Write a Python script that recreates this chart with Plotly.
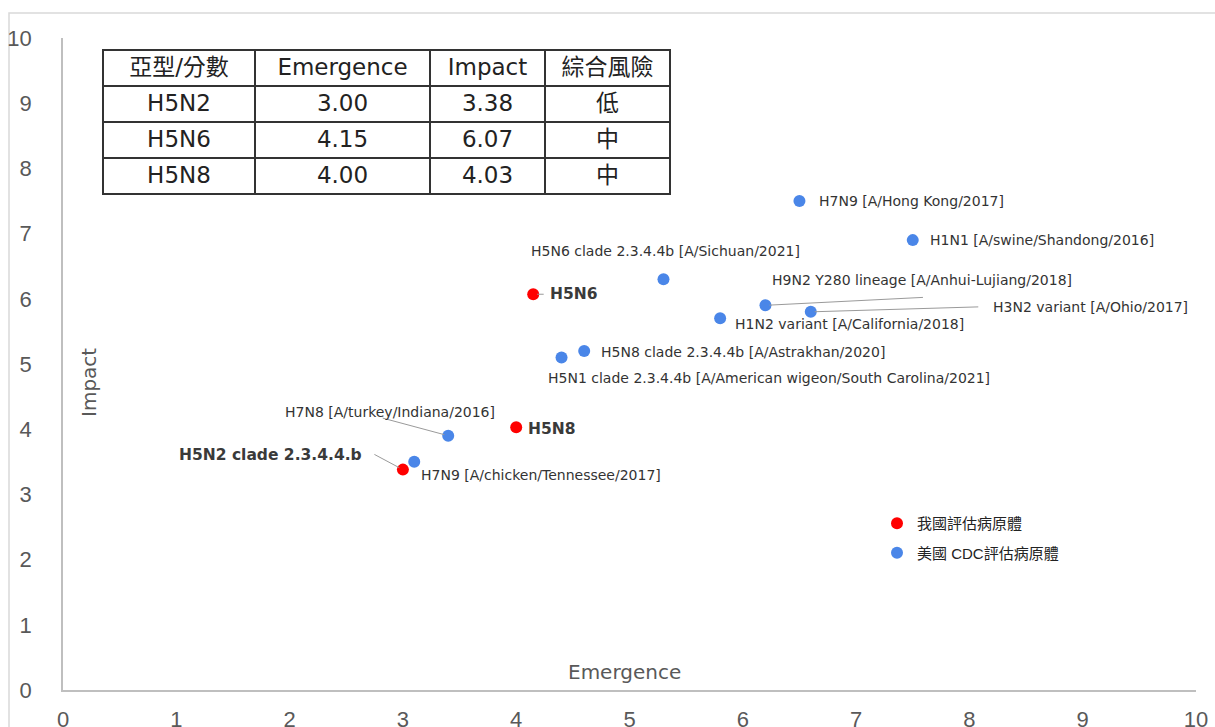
import plotly.graph_objects as go

# ---------------- data ----------------
tw_labels = ["H5N2 clade 2.3.4.4.b", "H5N6", "H5N8"]
tw_subtypes = ["H5N2", "H5N6", "H5N8"]
tw_emergence = [3.00, 4.15, 4.00]
tw_impact = [3.38, 6.07, 4.03]
tw_risk = ["低", "中", "中"]

us_labels = [
    "H7N9 [A/Hong Kong/2017]",
    "H1N1 [A/swine/Shandong/2016]",
    "H5N6 clade 2.3.4.4b [A/Sichuan/2021]",
    "H9N2 Y280 lineage [A/Anhui-Lujiang/2018]",
    "H3N2 variant [A/Ohio/2017]",
    "H1N2 variant [A/California/2018]",
    "H5N8 clade 2.3.4.4b [A/Astrakhan/2020]",
    "H5N1 clade 2.3.4.4b [A/American wigeon/South Carolina/2021]",
    "H7N8 [A/turkey/Indiana/2016]",
    "H7N9 [A/chicken/Tennessee/2017]",
]
us_emergence = [6.5, 7.5, 5.3, 6.2, 6.6, 5.8, 4.6, 4.4, 3.4, 3.1]
us_impact = [7.5, 6.9, 6.3, 5.9, 5.8, 5.7, 5.2, 5.1, 3.9, 3.5]

table_header = ["亞型/分數", "Emergence", "Impact", "綜合風險"]
x_ticks = list(range(0, 11))
y_ticks = list(range(0, 11))

legend_names = ["我國評估病原體", "美國 CDC評估病原體"]

# ---------------- styles ----------------
RED = "#FF0000"
BLUE = "#4A86E8"
LAB_FONT = "DejaVu Sans, Noto Sans CJK TC, sans-serif"
TICK_FONT = "Liberation Sans, Arial, sans-serif"
CJK_FONT = "DejaVu Sans, Noto Sans CJK TC, sans-serif"
LEG_FONT = "Liberation Sans, Noto Sans CJK TC, sans-serif"

# label placement (style only): xshift, yshift, xanchor, line (ax, ay) or None, bold
tw_style = [
    dict(xs=-39, ys=15, xa="right", line=(-30, -16), bold=True),
    dict(xs=15, ys=0, xa="left", line=(12, 0), bold=True),
    dict(xs=10, ys=-2, xa="left", line=None, bold=True),
]
us_style = [
    dict(xs=18, ys=0, xa="left", line=None),
    dict(xs=15, ys=0, xa="left", line=None),
    dict(xs=2, ys=28, xa="center", line=None),
    dict(xs=5, ys=25, xa="left", line=(159, -8)),
    dict(xs=180, ys=5, xa="left", line=(169, -5)),
    dict(xs=13, ys=-6, xa="left", line=None),
    dict(xs=15, ys=-1, xa="left", line=None),
    dict(xs=-16, ys=-21, xa="left", line=None),
    dict(xs=-58, ys=24, xa="center", line=(-67, -18)),
    dict(xs=5, ys=-13, xa="left", line=None),
]

fig = go.Figure()

fig.add_trace(go.Scatter(
    x=tw_emergence, y=tw_impact, mode="markers", name=legend_names[0],
    marker=dict(color=RED, size=12), legendgroup="a",
    hoverinfo="skip"))
fig.add_trace(go.Scatter(
    x=us_emergence, y=us_impact, mode="markers", name=legend_names[1],
    marker=dict(color=BLUE, size=12), legendgroup="b",
    hoverinfo="skip"))

# table
fig.add_trace(go.Table(
    domain=dict(x=[(103 - 63) / 1133, (671 - 63) / 1133], y=[0.70, (690 - 50) / 652]),
    columnwidth=[152, 175, 115, 125],
    header=dict(values=table_header, align="center", height=36,
                fill_color="white", line=dict(color="#333333", width=1.5),
                font=dict(family=CJK_FONT, size=23, color="#222222")),
    cells=dict(values=[tw_subtypes,
                       [f"{v:.2f}" for v in tw_emergence],
                       [f"{v:.2f}" for v in tw_impact],
                       tw_risk],
               align="center", height=36, fill_color="white",
               line=dict(color="#333333", width=1.5),
               font=dict(family=CJK_FONT, size=23, color="#222222")),
))

annotations = []


def add_label(x, y, text, st, bold=False):
    if st.get("line"):
        ax, ay = st["line"]
        annotations.append(dict(x=x, y=y, xref="x", yref="y", text=" ",
                                showarrow=True, arrowhead=0, arrowwidth=1,
                                arrowcolor="#9a9a9a", ax=ax, ay=ay,
                                standoff=4, font=dict(size=1)))
    annotations.append(dict(
        x=x, y=y, xref="x", yref="y",
        text=f"<b>{text}</b>" if bold else text,
        showarrow=False, xanchor=st["xa"], yanchor="middle",
        xshift=st["xs"], yshift=st["ys"],
        font=dict(family=LAB_FONT, size=15.5 if bold else 14,
                  color="#3a3a3a" if bold else "#333333")))


for x, y, t, st in zip(tw_emergence, tw_impact, tw_labels, tw_style):
    add_label(x, y, t, st, bold=st.get("bold", False))
for x, y, t, st in zip(us_emergence, us_impact, us_labels, us_style):
    add_label(x, y, t, st)

# axis titles (drawn inside the plot area as in the reference)
annotations.append(dict(x=(624 - 63) / 1133, y=(690 - 672) / 652, xref="paper",
                        yref="paper", text="Emergence", showarrow=False,
                        xanchor="center", yanchor="middle",
                        font=dict(family=LAB_FONT, size=20, color="#595959")))
annotations.append(dict(x=(89 - 63) / 1133, y=(690 - 383) / 652, xref="paper",
                        yref="paper", text="Impact", showarrow=False,
                        textangle=-90, xanchor="center", yanchor="middle",
                        font=dict(family=LAB_FONT, size=20, color="#595959")))

fig.update_layout(
    width=1215, height=727,
    margin=dict(l=63, r=19, t=38, b=37, autoexpand=False),
    paper_bgcolor="white", plot_bgcolor="white",
    showlegend=True,
    legend=dict(x=(877 - 63) / 1133, y=(690 - 507) / 652, xanchor="left",
                yanchor="top", bgcolor="rgba(0,0,0,0)", tracegroupgap=7,
                font=dict(family=LEG_FONT, size=15, color="#222222"),
                itemwidth=30),
    annotations=annotations,
    shapes=[dict(type="rect", xref="paper", yref="paper",
                 x0=(9 - 63) / 1133, x1=(1225 - 63) / 1133,
                 y0=(690 - 740) / 652, y1=(690 - 13) / 652,
                 line=dict(color="#d9d9d9", width=1.5), layer="below")],
)

fig.update_xaxes(range=[0, 10], tickvals=x_ticks, showgrid=False, zeroline=False,
                 showline=True, linecolor="#bfbfbf", linewidth=1.5, ticks="",
                 ticklabelstandoff=9, automargin=False,
                 tickfont=dict(family=TICK_FONT, size=22, color="#595959"))
fig.update_yaxes(range=[0, 10], tickvals=y_ticks, showgrid=False, zeroline=False,
                 showline=True, linecolor="#bfbfbf", linewidth=1.5, ticks="",
                 ticklabelstandoff=25, automargin=False,
                 tickfont=dict(family=TICK_FONT, size=22, color="#595959"))

fig.write_html("out.html",
               config={"displayModeBar": False},
               post_script="document.body.style.margin='0';"
                           "document.body.style.overflow='hidden';")
